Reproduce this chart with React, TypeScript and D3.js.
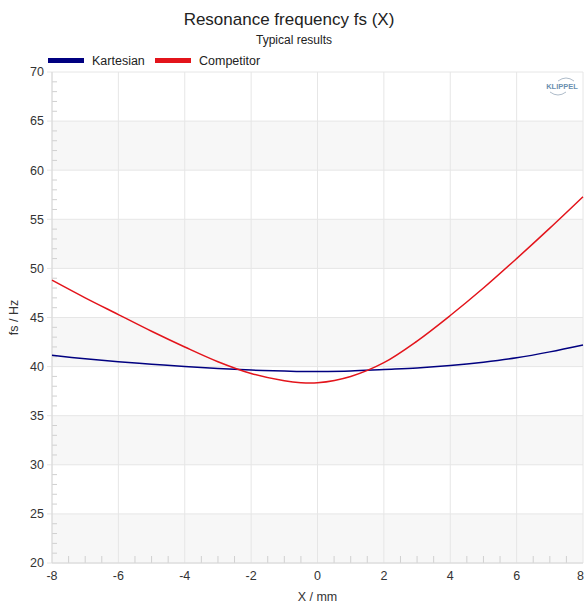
import React, { useEffect, useRef } from 'react';
import * as d3 from 'd3';

const xValues = [-8, -7, -6, -5, -4, -3, -2, -1, -0.5, 0, 1, 2, 3, 4, 5, 6, 7, 8];
const kartesian = [41.15, 40.8, 40.5, 40.25, 40.0, 39.8, 39.65, 39.55, 39.5, 39.5, 39.55, 39.7, 39.85, 40.1, 40.45, 40.9, 41.5, 42.2];
const competitor = [48.8, 47.0, 45.3, 43.6, 42.0, 40.5, 39.3, 38.55, 38.35, 38.35, 39.0, 40.4, 42.6, 45.2, 48.0, 51.0, 54.1, 57.3];
const xTicks = [-8, -6, -4, -2, 0, 2, 4, 6, 8];
const yTicks = [20, 25, 30, 35, 40, 45, 50, 55, 60, 65, 70];
const bands = [20, 30, 40, 50, 60];

const series = [
  { name: 'Kartesian', values: kartesian, color: '#000080' },
  { name: 'Competitor', values: competitor, color: '#e3141b' }
];

export default function App() {
  const ref = useRef<SVGSVGElement>(null);
  const width = 584;
  const height = 603;
  const margin = { top: 72, right: 1, bottom: 40, left: 52 };

  useEffect(() => {
    const svg = d3.select(ref.current);
    svg.selectAll('*').remove();
    const font = 'Liberation Sans, Arial, sans-serif';

    const x = d3.scaleLinear().domain([-8, 8]).range([margin.left, width - margin.right]);
    const y = d3.scaleLinear().domain([20, 70]).range([height - margin.bottom, margin.top]);

    svg.append('rect').attr('width', width).attr('height', height).attr('fill', '#fff');

    // gray bands
    svg.selectAll('.band').data(bands).enter().append('rect')
      .attr('x', x(-8)).attr('width', x(8) - x(-8))
      .attr('y', d => y(d + 5)).attr('height', d => y(d) - y(d + 5))
      .attr('fill', '#f7f7f7');

    // grid
    svg.selectAll('.vg').data(xTicks).enter().append('line')
      .attr('x1', d => x(d)).attr('x2', d => x(d))
      .attr('y1', y(20)).attr('y2', y(70))
      .attr('stroke', '#e6e6e6');
    svg.selectAll('.hg').data(yTicks).enter().append('line')
      .attr('x1', x(-8) - 5).attr('x2', x(8))
      .attr('y1', d => y(d)).attr('y2', d => y(d))
      .attr('stroke', '#e6e6e6');

    // minor ticks
    const yMinor = d3.range(20, 70, 1).filter(v => v % 5 !== 0);
    svg.selectAll('.ym').data(yMinor).enter().append('line')
      .attr('x1', x(-8)).attr('x2', x(-8) + 5)
      .attr('y1', d => y(d)).attr('y2', d => y(d))
      .attr('stroke', '#d0d0d0');
    const xMinor = d3.range(-7.5, 8, 0.5).filter(v => v % 2 !== 0);
    svg.selectAll('.xm').data(xMinor).enter().append('line')
      .attr('x1', d => x(d)).attr('x2', d => x(d))
      .attr('y1', y(20)).attr('y2', y(20) - 7)
      .attr('stroke', '#d0d0d0');

    // axes lines
    svg.append('line').attr('x1', x(-8)).attr('x2', x(-8)).attr('y1', y(20)).attr('y2', y(70)).attr('stroke', '#d8d8d8');
    svg.append('line').attr('x1', x(-8)).attr('x2', x(8)).attr('y1', y(20)).attr('y2', y(20)).attr('stroke', '#d8d8d8');

    // tick labels
    svg.selectAll('.yl').data(yTicks).enter().append('text')
      .attr('x', x(-8) - 8).attr('y', d => y(d)).attr('dy', '0.35em')
      .attr('text-anchor', 'end').attr('font-family', font).attr('font-size', 12.5).attr('fill', '#333')
      .text(d => d);
    svg.selectAll('.xl').data(xTicks).enter().append('text')
      .attr('x', d => (d === 8 ? x(d) + 1 : x(d))).attr('y', y(20) + 17)
      .attr('text-anchor', d => (d === 8 ? 'end' : 'middle')).attr('font-family', font).attr('font-size', 12.5).attr('fill', '#333')
      .text(d => d);

    // lines
    const line = d3.line<number>().x((_, i) => x(xValues[i])).y(d => y(d)).curve(d3.curveCatmullRom);
    series.forEach(s => {
      svg.append('path').attr('d', line(s.values)).attr('fill', 'none')
        .attr('stroke', s.color).attr('stroke-width', 1.5);
    });

    // titles
    svg.append('text').attr('x', 289).attr('y', 25).attr('text-anchor', 'middle')
      .attr('font-family', font).attr('font-size', 17).attr('fill', '#222').text('Resonance frequency fs (X)');
    svg.append('text').attr('x', 294).attr('y', 44).attr('text-anchor', 'middle')
      .attr('font-family', font).attr('font-size', 12).attr('fill', '#222').text('Typical results');
    svg.append('text').attr('x', x(0)).attr('y', 601).attr('text-anchor', 'middle')
      .attr('font-family', font).attr('font-size', 12.5).attr('fill', '#333').text('X / mm');
    svg.append('text').attr('transform', `translate(18,${y(45)}) rotate(-90)`).attr('text-anchor', 'middle')
      .attr('font-family', font).attr('font-size', 12.5).attr('fill', '#333').text('fs / Hz');

    // legend
    const lx = [48, 155];
    series.forEach((s, i) => {
      svg.append('rect').attr('x', lx[i]).attr('y', 58).attr('width', 36).attr('height', 5).attr('fill', s.color);
      svg.append('text').attr('x', lx[i] + 44).attr('y', 64.5).attr('font-family', font)
        .attr('font-size', 12.5).attr('fill', '#222').text(s.name);
    });

    // logo
    const g = svg.append('g').attr('transform', 'translate(562,86)');
    g.append('text').attr('text-anchor', 'middle').attr('y', 3).attr('font-family', font)
      .attr('font-size', 7.5).attr('font-weight', 'bold').attr('fill', '#6a8fb0').text('KLIPPEL');
    g.append('path').attr('d', 'M -4 -5 Q 4 -11 12 -5').attr('fill', 'none').attr('stroke', '#9ab').attr('stroke-width', 0.8);
    g.append('path').attr('d', 'M -12 6 Q -4 12 4 6').attr('fill', 'none').attr('stroke', '#9ab').attr('stroke-width', 0.8);
  }, []);

  return <svg ref={ref} width={width} height={height} style={{ position: 'absolute', left: 0, top: 0 }} />;
}
